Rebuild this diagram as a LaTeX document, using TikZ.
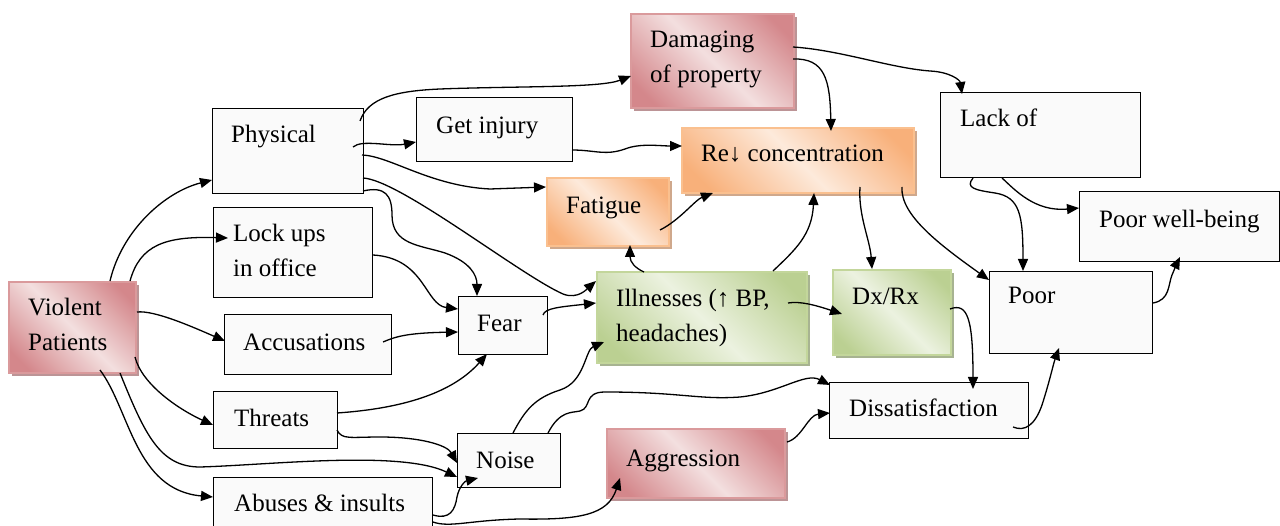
\documentclass[tikz,border=0pt]{standalone}
\usepackage{fontspec}
\setmainfont{Liberation Serif}
\usetikzlibrary{arrows.meta,calc,shadows}
\definecolor{redDark}{HTML}{D4878B}
\definecolor{redLight}{HTML}{F3DFDF}
\definecolor{redBorder}{HTML}{DA9A9C}
\definecolor{redShadow}{HTML}{BC9496}
\definecolor{orDark}{HTML}{F8B07A}
\definecolor{orLight}{HTML}{FDEADB}
\definecolor{orBorder}{HTML}{FAC08F}
\definecolor{orShadow}{HTML}{CFA88C}
\definecolor{grDark}{HTML}{BBD092}
\definecolor{grLight}{HTML}{ECF2E0}
\definecolor{grBorder}{HTML}{C3D69B}
\definecolor{grShadow}{HTML}{A7B391}
\definecolor{boxFill}{HTML}{FAFAFA}
\pgfdeclarehorizontalshading{redshade}{100bp}{color(0bp)=(redDark); color(22bp)=(redDark); color(50bp)=(redLight); color(78bp)=(redDark); color(100bp)=(redDark)}
\pgfdeclarehorizontalshading{orshade}{100bp}{color(0bp)=(orDark); color(22bp)=(orDark); color(50bp)=(orLight); color(78bp)=(orDark); color(100bp)=(orDark)}
\pgfdeclarehorizontalshading{grshade}{100bp}{color(0bp)=(grDark); color(22bp)=(grDark); color(50bp)=(grLight); color(78bp)=(grDark); color(100bp)=(grDark)}
\tikzset{
  boxbase/.style n args={2}{anchor=north west, inner sep=0pt, minimum width=#1pt, minimum height=#2pt},
  wbox/.style n args={2}{boxbase={#1}{#2}, draw=black, line width=1.3pt, fill=boxFill},
  rbox/.style n args={2}{boxbase={#1}{#2}, draw=redBorder, line width=2pt, shade, shading=redshade, shading angle=45,
     drop shadow={shadow xshift=3pt, shadow yshift=-3pt, fill=redShadow, opacity=1}},
  obox/.style n args={2}{boxbase={#1}{#2}, draw=orBorder, line width=2pt, shade, shading=orshade, shading angle=45,
     drop shadow={shadow xshift=3pt, shadow yshift=-3pt, fill=orShadow, opacity=1}},
  gbox/.style n args={2}{boxbase={#1}{#2}, draw=grBorder, line width=2pt, shade, shading=grshade, shading angle=45,
     drop shadow={shadow xshift=3pt, shadow yshift=-3pt, fill=grShadow, opacity=1}},
  txt/.style={anchor=base west, inner sep=0pt, align=left},
  conn/.style={line width=1.3pt, -{Triangle[length=12pt,width=10pt]}}
}
\begin{document}
\begin{tikzpicture}[x=1pt, y=-1pt, font=\fontsize{25}{35}\selectfont]
\useasboundingbox (0,0) rectangle (1280,526);
\clip (0,0) rectangle (1280,526);
% boxes
\node[rbox={127}{91}] (vp) at (8,281) {};
\node[wbox={151}{85}] (phys) at (212,108) {};
\node[wbox={156}{64}] (inj) at (416,97) {};
\node[wbox={159}{90}] (lock) at (213,207) {};
\node[wbox={167}{60}] (acc) at (224,314) {};
\node[wbox={124}{57}] (thr) at (213,391) {};
\node[wbox={219}{83}] (abu) at (213,477) {};
\node[wbox={89}{58}] (fear) at (458,296) {};
\node[wbox={103}{54}] (noise) at (457,433) {};
\node[obox={122}{68}] (fat) at (546,177) {};
\node[obox={232}{65}] (conc) at (681,127) {};
\node[rbox={163}{94}] (dmg) at (630,13) {};
\node[wbox={200}{85}] (lack) at (940,92) {};
\node[wbox={200}{70}] (pwb) at (1079,191) {};
\node[wbox={163}{82}] (poor) at (989,271) {};
\node[gbox={210}{91}] (ill) at (596,271) {};
\node[gbox={118}{85}] (dx) at (832,269) {};
\node[wbox={199}{56}] (dis) at (829,382) {};
\node[rbox={178}{69}] (agg) at (606,428) {};
% texts (multi-line texts are placed by the baseline of their last line)
\node[txt] (vpt) at (28,351) {Violent\\Patients};
\node[txt] (physt) at (231,143) {Physical};
\node[txt] (injt) at (436,134) {Get injury};
\node[txt] (lockt) at (233,277) {Lock ups\\in office};
\node[txt] (acct) at (243,351) {Accusations};
\node[txt] (thrt) at (234,427) {Threats};
\node[txt] (abut) at (234,511) {Abuses \& insults};
\node[txt] (feart) at (477,332) {Fear};
\node[txt] (noiset) at (476,468) {Noise};
\node[txt] (fatt) at (566,214) {Fatigue};
\node[txt] (conct) at (701,162) {Re↓ concentration};
\node[txt] (dmgt) at (650,83) {Damaging\\of property};
\node[txt] (lackt) at (960,127) {Lack of};
\node[txt] (pwbt) at (1099,228) {Poor well-being};
\node[txt] (poort) at (1008,304) {Poor};
\node[txt] (illt) at (616,342) {Illnesses (↑ BP,\\headaches)};
\node[txt] (dxt) at (852,305) {Dx/Rx};
\node[txt] (dist) at (849,417) {Dissatisfaction};
\node[txt] (aggt) at (626,466) {Aggression};
% connectors
\draw[conn] ($(vp.north west)+(102,0)$) .. controls (122,230) and (165,192) .. ($(phys.north west)+(0,72)$);
\draw[conn] ($(vp.north west)+(122,0)$) .. controls (140,245) and (165,236) .. ($(lock.north west)+(15,31)$);
\draw[conn] ($(vp.north west)+(129,31)$) .. controls (155,310) and (195,328) .. ($(acc.north west)+(1,27)$);
\draw[conn] ($(vp.north west)+(127,76)$) .. controls (142,385) and (180,410) .. ($(thr.north west)+(0,34)$);
\draw[conn] ($(vp.north west)+(112,92)$) .. controls (145,435) and (160,467) .. (200,467) .. controls (270,465) and (400,450) .. ($(noise.north west)+(0,44)$);
\draw[conn] ($(vp.north west)+(92,89)$) .. controls (130,410) and (135,490) .. ($(abu.north west)+(0,20)$);
\draw[conn] ($(phys.north west)+(148,13)$) .. controls (368,98) and (395,91) .. (440,89) .. controls (520,86) and (600,88) .. ($(dmg.north west)+(1,63)$);
\draw[conn] ($(phys.north west)+(141,39)$) .. controls (362,139) and (390,147) .. ($(inj.north west)+(0,45)$);
\draw[conn] ($(phys.north west)+(150,47)$) .. controls (390,156) and (430,186) .. (490,189) -- ($(fat.north west)+(0,10)$);
\draw[conn] ($(phys.north west)+(151,70)$) .. controls (400,180) and (520,275) .. (563,294) .. controls (578,300) and (588,288) .. ($(ill.north west)+(0,10)$);
\draw[conn] ($(phys.north west)+(151,83)$) .. controls (385,186) and (392,195) .. (392,215) .. controls (392,245) and (420,245) .. (445,253) .. controls (470,262) and (477,275) .. ($(fear.north west)+(19,0)$);
\draw[conn] ($(lock.north west)+(160,48)$) .. controls (425,258) and (425,305) .. ($(fear.north west)+(0,13)$);
\draw[conn] ($(acc.north west)+(159,28)$) .. controls (395,337) and (405,333) .. ($(fear.north west)+(0,36)$);
\draw[conn] ($(thr.north west)+(124,22)$) .. controls (410,408) and (455,390) .. ($(fear.north west)+(29,58)$);
\draw[conn] ($(thr.north west)+(124,39)$) .. controls (342,440) and (350,437) .. (380,437) .. controls (420,437) and (447,445) .. ($(noise.north west)+(0,30)$);
\draw[conn] ($(abu.north west)+(220,38)$) .. controls (450,520) and (455,510) .. (457,497) .. controls (459,487) and (465,481) .. ($(noise.north west)+(21,45)$);
\draw[conn] ($(abu.north west)+(220,45)$) .. controls (450,528) and (470,520) .. (520,519) .. controls (580,520) and (608,515) .. ($(agg.north west)+(14,50)$);
\draw[conn] ($(noise.north west)+(56,0)$) .. controls (525,410) and (535,398) .. (560,390) .. controls (585,382) and (585,350) .. ($(ill.north west)+(8,71)$);
\draw[conn] ($(noise.north west)+(91,0)$) .. controls (560,410) and (572,413) .. (580,411) .. controls (592,408) and (583,392) .. (605,392) .. controls (680,392) and (700,400) .. (740,397) .. controls (780,393) and (805,372) .. ($(dis.north west)+(1,3)$);
\draw[conn] ($(agg.north west)+(181,14)$) .. controls (802,438) and (808,415) .. ($(dis.north west)+(1,31)$);
\draw[conn] ($(fear.north west)+(85,19)$) .. controls (545,308) and (560,307) .. ($(ill.north west)+(0,32)$);
\draw[conn] ($(ill.north west)+(48,1)$) .. controls (635,268) and (630,262) .. ($(fat.north west)+(84,68)$);
\draw[conn] ($(fat.north west)+(114,53)$) .. controls (680,220) and (695,200) .. ($(conc.north west)+(32,66)$);
\draw[conn] ($(ill.north west)+(177,0)$) .. controls (795,250) and (812,235) .. ($(conc.north west)+(133,66)$);
\draw[conn] ($(inj.north west)+(156,53)$) .. controls (595,150) and (605,156) .. (625,149) .. controls (640,143) and (660,146) .. ($(conc.north west)+(1,19)$);
\draw[conn] ($(dmg.north west)+(163,34)$) .. controls (840,50) and (890,68) .. (930,71) .. controls (950,72) and (960,80) .. ($(lack.north west)+(22,2)$);
\draw[conn] ($(dmg.north west)+(163,46)$) .. controls (825,58) and (830,80) .. ($(conc.north west)+(150,4)$);
\draw[conn] ($(conc.north west)+(179,60)$) .. controls (858,215) and (870,240) .. ($(dx.north west)+(40,0)$);
\draw[conn] ($(conc.north west)+(221,60)$) .. controls (900,215) and (940,245) .. ($(poor.north west)+(0,9)$);
\draw[conn] ($(ill.north west)+(192,32)$) .. controls (800,301) and (815,305) .. ($(dx.north west)+(10,45)$);
\draw[conn] ($(dx.north west)+(118,40)$) .. controls (968,302) and (973,320) .. ($(dis.north west)+(144,7)$);
\draw[conn] ($(dis.north west)+(184,45)$) .. controls (1025,432) and (1035,425) .. (1042,405) .. controls (1050,380) and (1053,365) .. ($(poor.north west)+(70,77)$);
\draw[conn] ($(lack.north west)+(33,86)$) .. controls (965,188) and (975,190) .. (995,193) .. controls (1020,197) and (1023,215) .. ($(poor.north west)+(34,0)$);
\draw[conn] ($(lack.north west)+(62,86)$) .. controls (1015,190) and (1035,212) .. ($(pwb.north west)+(0,17)$);
\draw[conn] ($(poor.north west)+(164,32)$) .. controls (1170,300) and (1168,285) .. (1172,275) .. controls (1175,268) and (1177,263) .. ($(pwb.north west)+(101,66)$);
\end{tikzpicture}
\end{document}
